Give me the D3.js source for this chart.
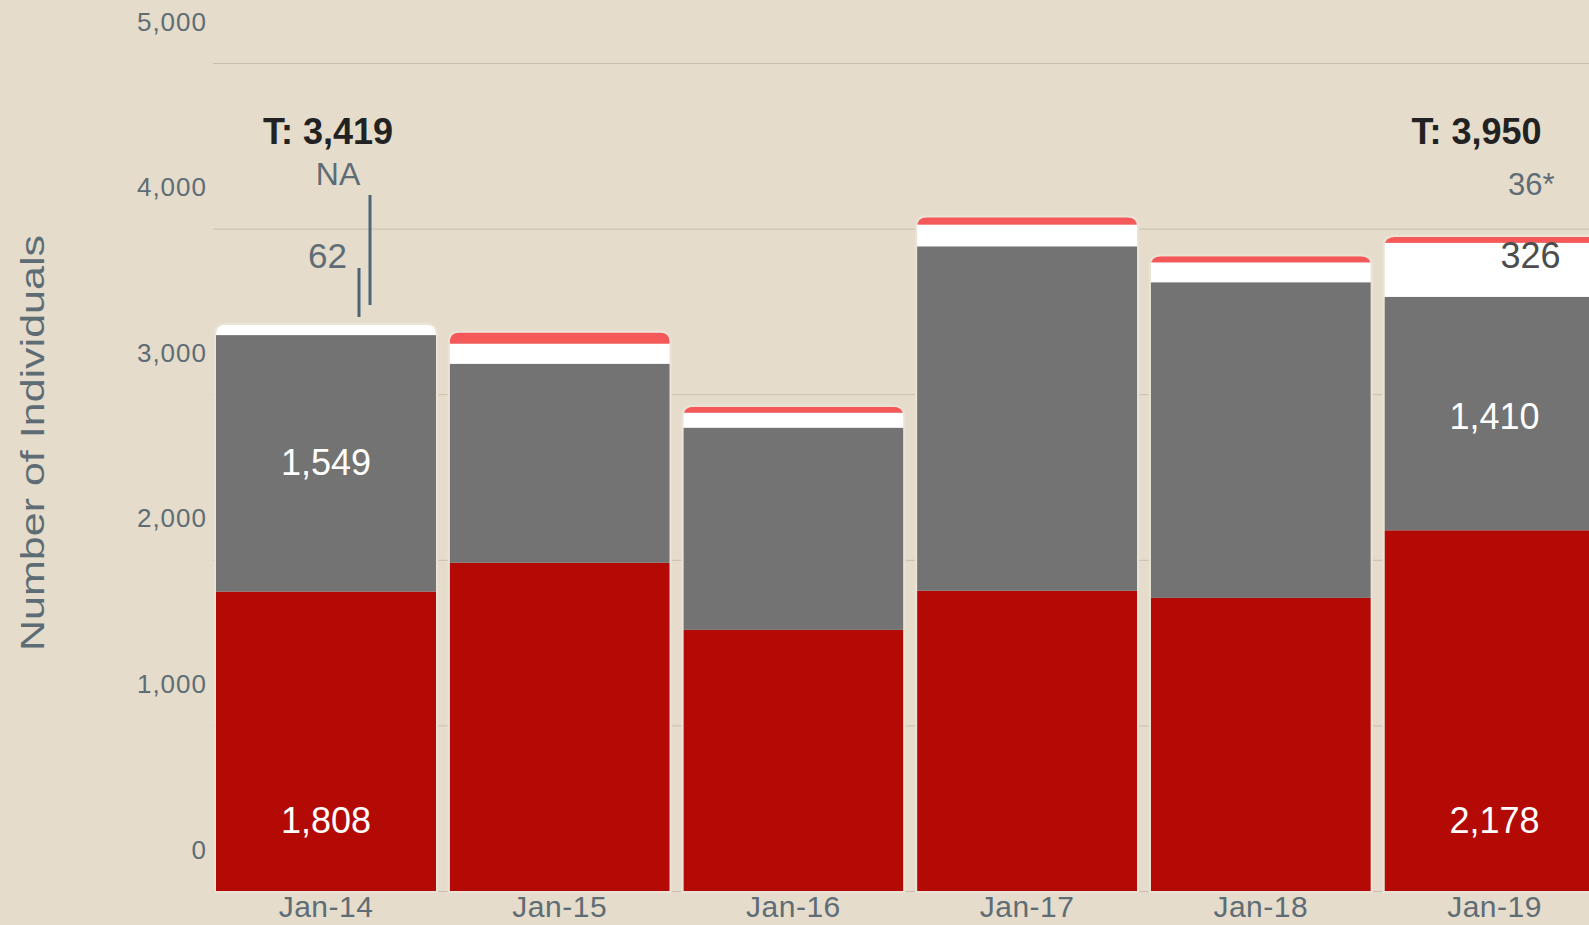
<!DOCTYPE html>
<html>
<head>
<meta charset="utf-8">
<script src="https://cdn.jsdelivr.net/npm/d3@7"></script>
<style>
  html, body { margin: 0; padding: 0; background: #e5dccb; overflow: hidden; }
  svg { display: block; font-family: "Liberation Sans", Arial, sans-serif; }
</style>
</head>
<body>
<svg width="1589" height="925"></svg>
<script>
var categories = ['Jan-14', 'Jan-15', 'Jan-16', 'Jan-17', 'Jan-18', 'Jan-19'];
var redValues   = [1808, 1982, 1577, 1813, 1770, 2178];
var grayValues  = [1549, 1202, 1221, 2080, 1906, 1410];
var whiteValues = [62, 121, 90, 131, 120, 326];
var topValues   = [0, 67, 36, 44, 37, 36];
var yTicks = [0, 1000, 2000, 3000, 4000, 5000];

var keys = ['red', 'gray', 'white', 'top'];
var colors = { red: '#b40a06', gray: '#737373', white: '#ffffff', top: '#f45858' };

var rows = categories.map(function(c, i) {
    return { month: c, red: redValues[i], gray: grayValues[i], white: whiteValues[i], top: topValues[i] };
});

var svg = d3.select('svg');
var fmt = d3.format(',');

var xScale = d3.scaleBand()
    .domain(categories)
    .range([216, 1604.5])
    .paddingInner(0.0586)
    .paddingOuter(0);

var yScale = d3.scaleLinear()
    .domain([0, 5000])
    .range([891, 63]);

// grid lines
svg.append('g')
    .selectAll('line')
    .data(yTicks)
    .enter()
    .append('line')
    .attr('x1', 213)
    .attr('x2', 1589)
    .attr('y1', function(d) { return yScale(d) + 0.5; })
    .attr('y2', function(d) { return yScale(d) + 0.5; })
    .style('stroke', '#c9bfae')
    .style('stroke-width', 1);

// y axis labels (sit well above their grid lines, like the original)
var yAxis = d3.axisLeft(yScale).tickValues(yTicks).tickFormat(fmt).tickSize(0).tickPadding(6);
var yg = svg.append('g')
    .attr('transform', 'translate(213,0)')
    .call(yAxis);
yg.select('.domain').remove();
yg.selectAll('text')
    .attr('dy', -33)
    .style('font-size', '26px')
    .style('letter-spacing', '1px')
    .style('fill', '#5e6d75')
    .style('font-family', '"Liberation Sans", Arial, sans-serif');

svg.append('text')
    .attr('transform', 'translate(44,443)rotate(-90)')
    .attr('text-anchor', 'middle')
    .attr('textLength', 416)
    .attr('lengthAdjust', 'spacingAndGlyphs')
    .style('font-size', '34px')
    .style('fill', '#5e6d75')
    .text('Number of Individuals');

var stack = d3.stack().keys(keys);
var series = stack(rows);

var r = 10;
function topRounded(x0, w, yTop, yBot) {
    return 'M' + x0 + ',' + yBot +
        'L' + x0 + ',' + (yTop + r) +
        'Q' + x0 + ',' + yTop + ' ' + (x0 + r) + ',' + yTop +
        'L' + (x0 + w - r) + ',' + yTop +
        'Q' + (x0 + w) + ',' + yTop + ' ' + (x0 + w) + ',' + (yTop + r) +
        'L' + (x0 + w) + ',' + yBot + 'Z';
}

var defs = svg.append('defs');
rows.forEach(function(d, i) {
    var total = d.red + d.gray + d.white + d.top;
    defs.append('clipPath')
        .attr('id', 'clip' + i)
        .append('path')
        .attr('d', topRounded(xScale(d.month), xScale.bandwidth(), yScale(total), yScale(0)));
});

// soft halo round each bar
svg.append('g')
    .selectAll('path')
    .data(rows)
    .enter()
    .append('path')
    .attr('d', function(d) {
        var total = d.red + d.gray + d.white + d.top;
        return topRounded(xScale(d.month), xScale.bandwidth(), yScale(total), yScale(0));
    })
    .style('fill', 'none')
    .style('stroke', '#ebe4d6')
    .style('stroke-width', 4);

var bars = svg.append('g')
    .selectAll('g')
    .data(categories)
    .enter()
    .append('g')
    .attr('clip-path', function(d, i) { return 'url(#clip' + i + ')'; });

bars.each(function(month, i) {
    var g = d3.select(this);
    series.forEach(function(s) {
        var seg = s[i];
        if (seg[1] - seg[0] <= 0) return;
        g.append('rect')
            .attr('x', xScale(month))
            .attr('y', yScale(seg[1]))
            .attr('width', xScale.bandwidth())
            .attr('height', yScale(seg[0]) - yScale(seg[1]))
            .style('fill', colors[s.key]);
    });
});

// x axis
var xAxis = d3.axisBottom(xScale).tickSize(0).tickPadding(5);
var xg = svg.append('g')
    .attr('transform', 'translate(0,891)')
    .call(xAxis);
xg.select('.domain').remove();
xg.selectAll('text')
    .style('font-size', '30px')
    .style('letter-spacing', '0.5px')
    .style('fill', '#5e6d75')
    .style('font-family', '"Liberation Sans", Arial, sans-serif');

// annotations for first and last bar
var first = rows[0], last = rows[5];
var cx0 = xScale(first.month) + xScale.bandwidth() / 2;
var cx5 = xScale(last.month) + xScale.bandwidth() / 2;

function note(x, y, txt, size, color, anchor, weight) {
    svg.append('text')
        .attr('x', x)
        .attr('y', y)
        .attr('text-anchor', anchor)
        .style('font-size', size + 'px')
        .style('font-weight', weight || 'normal')
        .style('fill', color)
        .text(txt);
}

note(cx0 + 2, 144, 'T: ' + fmt(first.red + first.gray + first.white + first.top), 36, '#222222', 'middle', 'bold');
note(cx5 - 18, 144, 'T: ' + fmt(last.red + last.gray + last.white + last.top), 36, '#222222', 'middle', 'bold');

note(cx0 + 12, 185, 'NA', 32, '#5e6d75', 'middle');
note(cx0 + 21, 268, fmt(first.white), 35, '#5e6d75', 'end');

svg.append('line')
    .attr('x1', cx0 + 44).attr('x2', cx0 + 44)
    .attr('y1', 195).attr('y2', 305)
    .style('stroke', '#4d6576').style('stroke-width', 3);
svg.append('line')
    .attr('x1', cx0 + 33).attr('x2', cx0 + 33)
    .attr('y1', 268).attr('y2', 317)
    .style('stroke', '#4d6576').style('stroke-width', 3);

note(cx5 + 60, 195, fmt(last.top) + '*', 31, '#5e6d75', 'end');
note(cx5 + 36, 268, fmt(last.white), 36, '#4d4d4d', 'middle');

// in-bar values
note(cx0, yScale(first.red + first.gray / 2) + 12, fmt(first.gray), 36, '#ffffff', 'middle');
note(cx5, yScale(last.red + last.gray / 2) + 15, fmt(last.gray), 36, '#ffffff', 'middle');
note(cx0, 833, fmt(first.red), 36, '#ffffff', 'middle');
note(cx5, 833, fmt(last.red), 36, '#ffffff', 'middle');
</script>
</body>
</html>
